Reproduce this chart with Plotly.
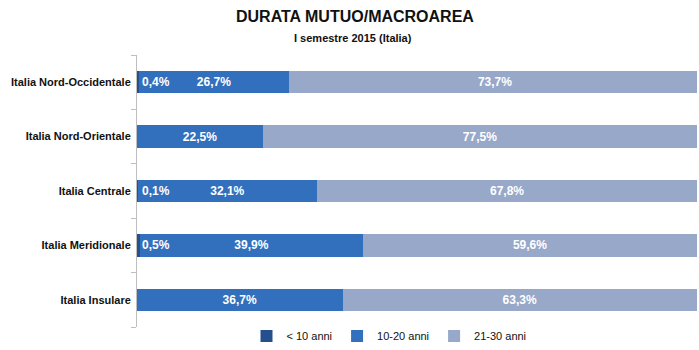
import plotly.graph_objects as go

# Macro-areas (top to bottom) and share of mortgages by duration, percent
areas = ["Italia Nord-Occidentale", "Italia Nord-Orientale", "Italia Centrale",
         "Italia Meridionale", "Italia Insulare"]
under_10 = [0.4, 0.0, 0.1, 0.5, 0.0]
from_10_to_20 = [26.7, 22.5, 32.1, 39.9, 36.7]
from_21_to_30 = [73.7, 77.5, 67.8, 59.6, 63.3]

series_names = ["< 10 anni", "10-20 anni", "21-30 anni"]
series_colors = ["#264F8E", "#3270BD", "#98A8C9"]

FONT = "Liberation Sans"


def pct(v):
    return f"{v:.1f}".replace(".", ",") + "%"


fig = go.Figure()
for name, vals, col, show_text in zip(
        series_names, [under_10, from_10_to_20, from_21_to_30], series_colors,
        [False, True, True]):
    fig.add_trace(go.Bar(
        y=areas, x=vals, name=name, orientation="h",
        marker=dict(color=col, line=dict(width=0)),
        text=[pct(v) for v in vals] if show_text else None,
        textposition="inside", insidetextanchor="middle",
        textfont=dict(family=FONT, size=12, color="white", weight="bold"),
        hoverinfo="x+name",
    ))

# Tiny "< 10 anni" segments: label them just inside the bar start
annotations = []
for area, v in zip(areas, under_10):
    if v > 0:
        annotations.append(dict(
            x=0, y=area, xref="x", yref="y", text=pct(v), showarrow=False,
            xanchor="left", xshift=3,
            font=dict(family=FONT, size=12, color="white", weight="bold"),
        ))

# Title and subtitle, centred on the page
annotations += [
    dict(text="<b>DURATA MUTUO/MACROAREA</b>", x=0.389, y=1.0, xref="paper",
         yref="paper", yanchor="middle", xanchor="center", yshift=39,
         showarrow=False, font=dict(family=FONT, size=16, color="#111111")),
    dict(text="<b>I semestre 2015 (Italia)</b>", x=0.385, y=1.0, xref="paper",
         yref="paper", yanchor="middle", xanchor="center", yshift=17,
         showarrow=False, font=dict(family=FONT, size=11, color="#111111")),
]

fig.update_layout(
    width=699, height=350,
    margin=dict(l=137, r=2, t=55, b=23, autoexpand=False),
    barmode="stack", bargap=0.59,
    paper_bgcolor="white", plot_bgcolor="white",
    font=dict(family=FONT, size=11, color="#111111"),
    showlegend=True,
    legend=dict(orientation="h", x=0.45, xanchor="center", y=0.02,
                yanchor="top", font=dict(family=FONT, size=11, color="#111111"),
                itemwidth=30, traceorder="normal"),
    xaxis=dict(range=[0, 100], visible=False, fixedrange=True),
    yaxis=dict(categoryorder="array", categoryarray=areas[::-1],
               showline=True, linecolor="#BFBFBF", linewidth=1,
               ticks="outside", tickson="boundaries", ticklen=5,
               tickcolor="#BFBFBF", showgrid=False, automargin=False,
               ticklabelstandoff=3,
               tickfont=dict(family=FONT, size=11, color="#111111",
                             weight="bold")),
    annotations=annotations,
)

fig.write_html("out.html")
